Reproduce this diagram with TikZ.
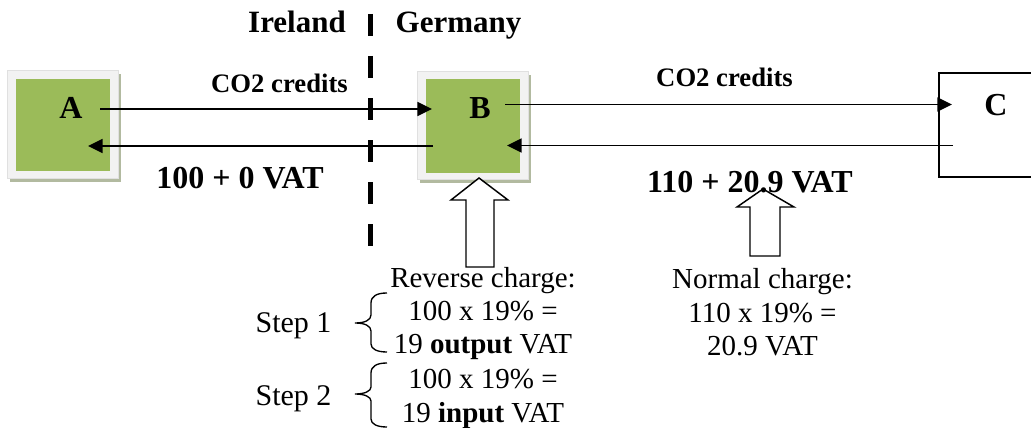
\documentclass[tikz,border=0pt]{standalone}
\usepackage{fontspec}
\setmainfont{Liberation Serif}
\usetikzlibrary{arrows.meta}
\definecolor{boxgreen}{RGB}{155,187,89}
\definecolor{framegray}{RGB}{242,242,242}
\definecolor{shadowcol}{RGB}{178,186,160}
\tikzset{
  hdr/.style={font=\fontsize{23.25pt}{28pt}\selectfont\bfseries, inner sep=0pt, anchor=base},
  cred/.style={font=\fontsize{20pt}{24pt}\selectfont\bfseries, inner sep=0pt, anchor=base},
  big/.style={font=\fontsize{24pt}{28pt}\selectfont\bfseries, inner sep=0pt, anchor=base},
  txt/.style={font=\fontsize{21.75pt}{26pt}\selectfont, inner sep=0pt, anchor=base},
  steptxt/.style={font=\fontsize{22.5pt}{26pt}\selectfont, inner sep=0pt, anchor=base},
  arr/.style={line width=1.2pt, -{Triangle[length=11pt,width=10.5pt]}},
  blockarrow/.style={line width=1.1pt, draw=black, fill=white},
  bracestyle/.style={line width=1pt},
  border/.style={line width=3.75pt, dash pattern=on 16.5pt off 15pt},
  shadowbox/.style={fill=shadowcol},
  framebox/.style={fill=framegray, draw=black!12, line width=0.4pt},
}
\begin{document}
\begin{tikzpicture}[x=0.75pt,y=-0.75pt]
\useasboundingbox (0,0) rectangle (1031,428);
% dashed border
\draw[border] (370,14) -- (370,247);
% box A
\fill[shadowbox] (10,74) rectangle (121,182);
\path[framebox] (7,70) rectangle (118,178);
\node[fill=boxgreen, inner sep=0pt, minimum width=70.5pt, minimum height=69pt] (A) at (63,125) {};
\node[big] (Alab) at (71,118) {A};
% box B
\fill[shadowbox] (420,75) rectangle (531,183);
\path[framebox] (417,71) rectangle (528,179);
\node[fill=boxgreen, inner sep=0pt, minimum width=70.5pt, minimum height=70.5pt] (B) at (473,126) {};
\node[big] (Blab) at (480,118) {B};
% box C
\draw[line width=1.2pt] (1040,73) -- (939,73) -- (939,177) -- (1040,177);
\coordinate (C) at (985,125);
\node[big] (Clab) at (996,115) {C};
% arrow end points
\coordinate (a1) at (100,109);
\coordinate (b1) at (432,109);
\coordinate (b2) at (433,146);
\coordinate (a2) at (88,146);
\coordinate (b3) at (505,104.5);
\coordinate (c1) at (952,104.5);
\coordinate (c2) at (953,145.5);
\coordinate (b4) at (507,145.5);
\draw[arr] (a1) -- (b1);
\draw[arr] (b2) -- (a2);
\draw[arr] (b3) -- (c1);
\draw[arr] (c2) -- (b4);
% headings
\node[hdr] (ire) at (297,33) {Ireland};
\node[hdr] (ger) at (458.5,33) {Germany};
% labels
\node[cred] (co1) at (279.5,93) {CO2 credits};
\node[cred] (co2) at (724.5,87) {CO2 credits};
\node[big] (p1) at (240,188) {100 + 0 VAT};
% block arrows
\draw[blockarrow] (479,178) -- (508,200) -- (494,200) -- (494,267) -- (466,267) -- (466,200) -- (451,200) -- cycle;
\draw[blockarrow] (763,189) -- (794,207) -- (780,207) -- (780,256) -- (750,256) -- (750,207) -- (737,207) -- cycle;
\node[big] (p2) at (750,192) {110 + 20.9 VAT};
% reverse charge text
\node[txt] (r1) at (483,287) {Reverse charge:};
\node[txt] (r2) at (483,320) {100 x 19\% =};
\node[txt] (r3) at (483,353) {19 \textbf{output} VAT};
\node[txt] (r4) at (483,388) {100 x 19\% =};
\node[txt] (r5) at (483,422) {19 \textbf{input} VAT};
% normal charge text
\node[txt] (n1) at (762.5,288) {Normal charge:};
\node[txt] (n2) at (762.5,322) {110 x 19\% =};
\node[txt] (n3) at (762.5,355) {20.9 VAT};
% steps
\node[steptxt] (s1) at (293.5,332) {Step 1};
\node[steptxt] (s2) at (293.5,405) {Step 2};
% braces
\draw[bracestyle] (387,293) .. controls (377,293) and (371,296) .. (371,303) -- (371,315) .. controls (371,320) and (365,323) .. (355,323) .. controls (365,323) and (371,326) .. (371,331) -- (371,344) .. controls (371,349) and (377,352) .. (387,352);
\draw[bracestyle] (387,363) .. controls (377,363) and (371,366) .. (371,373) -- (371,387) .. controls (371,391) and (365,394) .. (355,394) .. controls (365,394) and (371,397) .. (371,401) -- (371,419) .. controls (371,424) and (377,427) .. (387,427);
\end{tikzpicture}
\end{document}
